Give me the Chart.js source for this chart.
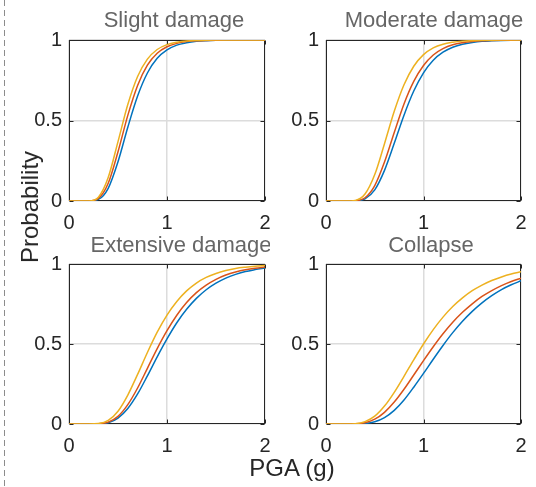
<!DOCTYPE html>
<html>
<head>
<meta charset="utf-8">
<script src="https://cdn.jsdelivr.net/npm/chart.js@4/dist/chart.umd.min.js"></script>
<style>
  html, body { margin: 0; padding: 0; background: #fff; }
  #wrap { position: relative; width: 536px; height: 487px; overflow: hidden; font-family: "Liberation Sans", Arial, Helvetica, sans-serif; }
  .cv { position: absolute; }
  #dash { position: absolute; left: 4px; top: 0; width: 1px; height: 487px;
          background: repeating-linear-gradient(to bottom, #8c8c8c 0 6px, transparent 6px 10px); }
  #ylab { position: absolute; left: 30px; top: 207px; transform: translate(-50%, -50%) rotate(-90deg);
          font-size: 24px; color: #262626; white-space: nowrap; }
  #xlab { position: absolute; left: 292px; top: 480px; transform: translate(-50%, -100%);
          font-size: 24px; color: #262626; white-space: nowrap; line-height: 1; }
</style>
</head>
<body>
<div id="wrap">
  <div id="dash"></div>
  <canvas id="c1" class="cv"></canvas>
  <canvas id="c2" class="cv"></canvas>
  <canvas id="c3" class="cv"></canvas>
  <canvas id="c4" class="cv"></canvas>
  <div id="ylab">Probability</div>
  <div id="xlab">PGA (g)</div>
</div>
<script>
// ---- data ----
const pga = [0,0.1,0.2,0.3,0.4,0.5,0.6,0.7,0.8,0.9,1.0,1.1,1.2,1.3,1.4,1.5,1.6,1.7,1.8,1.9,2.0];

const xTicks = [0, 1, 2];
const yTicks = [0, 0.5, 1];
const titles = ["Slight damage", "Moderate damage", "Extensive damage", "Collapse"];
const seriesNames = ["Series 1", "Series 2", "Series 3"];

const slightBlue   = [0,0,0.0001,0.010,0.079,0.244,0.458,0.652,0.795,0.886,0.938,0.968,0.983,0.992,0.996,0.998,0.999,0.9994,0.9997,0.9998,0.9999];
const slightRed    = [0,0,0.0003,0.016,0.110,0.306,0.532,0.718,0.844,0.918,0.958,0.979,0.990,0.995,0.9975,0.9988,0.9994,0.9997,0.9998,0.9999,1];
const slightYellow = [0,0,0.0005,0.024,0.146,0.369,0.599,0.773,0.881,0.941,0.971,0.986,0.994,0.997,0.9986,0.9993,0.9997,0.9998,0.9999,1,1];

const moderateBlue   = [0,0,0,0.0007,0.013,0.069,0.190,0.358,0.533,0.683,0.796,0.874,0.924,0.955,0.974,0.985,0.992,0.995,0.997,0.9985,0.999];
const moderateRed    = [0,0,0,0.0013,0.020,0.096,0.242,0.426,0.603,0.743,0.842,0.907,0.946,0.970,0.983,0.991,0.995,0.997,0.9985,0.9992,0.9995];
const moderateYellow = [0,0,0,0.0037,0.043,0.164,0.356,0.557,0.722,0.837,0.909,0.951,0.974,0.986,0.993,0.996,0.998,0.999,0.9995,0.9997,0.9999];

const extensiveBlue   = [0,0,0,0.0008,0.008,0.037,0.097,0.188,0.301,0.420,0.532,0.633,0.717,0.785,0.839,0.880,0.912,0.935,0.953,0.965,0.975];
const extensiveRed    = [0,0,0,0.0012,0.012,0.048,0.121,0.225,0.348,0.471,0.583,0.680,0.759,0.821,0.868,0.904,0.931,0.950,0.964,0.974,0.981];
const extensiveYellow = [0,0,0,0.0027,0.0225,0.080,0.181,0.310,0.447,0.574,0.681,0.766,0.832,0.881,0.916,0.941,0.959,0.972,0.980,0.986,0.990];

const collapseBlue   = [0,0,0,0.0002,0.003,0.014,0.040,0.085,0.150,0.230,0.316,0.405,0.491,0.571,0.642,0.704,0.757,0.802,0.840,0.870,0.895];
const collapseRed    = [0,0,0,0.001,0.008,0.030,0.073,0.137,0.217,0.306,0.396,0.483,0.564,0.636,0.698,0.751,0.797,0.834,0.865,0.891,0.911];
const collapseYellow = [0,0,0.0001,0.002,0.015,0.049,0.112,0.198,0.298,0.401,0.500,0.590,0.668,0.734,0.788,0.833,0.868,0.897,0.919,0.937,0.951];

const panels = [
  { id: "c1", title: titles[0], series: [slightBlue, slightRed, slightYellow] },
  { id: "c2", title: titles[1], series: [moderateBlue, moderateRed, moderateYellow] },
  { id: "c3", title: titles[2], series: [extensiveBlue, extensiveRed, extensiveYellow] },
  { id: "c4", title: titles[3], series: [collapseBlue, collapseRed, collapseYellow] }
];

// ---- layout / style ----
const colors = ["#0072BD", "#D95319", "#EDB120"];
const FONT = '"Liberation Sans", Arial, Helvetica, sans-serif';
const INK = "#262626";
// canvas box [left, top, width, height], plot box [left, top, right, bottom], title centre x / baseline (page coords)
const geom = [
  { box: [0, 0, 270, 240],     plot: [69, 40, 265, 201],   tx: 174, ty: 27 },
  { box: [270, 0, 266, 240],   plot: [326, 40, 521, 201],  tx: 434, ty: 27 },
  { box: [0, 226, 270, 261],   plot: [69, 264, 265, 424],  tx: 181, ty: 252 },
  { box: [270, 226, 266, 261], plot: [326, 264, 521, 424], tx: 431, ty: 252 }
];

const matlabAxes = {
  id: "matlabAxes",
  beforeDatasetsDraw(chart, args, opts) {
    const { ctx, chartArea: a, scales } = chart;
    ctx.save();
    ctx.strokeStyle = INK;
    ctx.lineWidth = 1;
    const L = Math.round(a.left) + 0.5, R = Math.round(a.right) - 0.5;
    const T = Math.round(a.top) + 0.5, B = Math.round(a.bottom) - 0.5;
    ctx.strokeRect(L, T, R - L, B - T);
    ctx.beginPath();
    const tl = 4;
    xTicks.forEach(v => {
      const x = Math.round(scales.x.getPixelForValue(v)) + 0.5;
      ctx.moveTo(x, B); ctx.lineTo(x, B - tl);
      ctx.moveTo(x, T); ctx.lineTo(x, T + tl);
    });
    yTicks.forEach(v => {
      const y = Math.round(scales.y.getPixelForValue(v)) + 0.5;
      ctx.moveTo(L, y); ctx.lineTo(L + tl, y);
      ctx.moveTo(R, y); ctx.lineTo(R - tl, y);
    });
    ctx.stroke();
    ctx.restore();
  },
  afterDraw(chart, args, opts) {
    const ctx = chart.ctx;
    ctx.save();
    ctx.fillStyle = "#666666";
    ctx.font = "22px " + FONT;
    ctx.textAlign = "center";
    ctx.textBaseline = "alphabetic";
    ctx.fillText(opts.text, opts.x, opts.y);
    ctx.restore();
  }
};

panels.forEach((p, i) => {
  const g = geom[i];
  const cv = document.getElementById(p.id);
  cv.style.left = g.box[0] + "px";
  cv.style.top = g.box[1] + "px";
  cv.style.width = g.box[2] + "px";
  cv.style.height = g.box[3] + "px";
  cv.width = g.box[2];
  cv.height = g.box[3];
  const yW = g.plot[0] - g.box[0];
  const padTop = g.plot[1] - g.box[1];
  const padRight = g.box[0] + g.box[2] - g.plot[2];
  const xH = g.box[1] + g.box[3] - g.plot[3];

  new Chart(cv, {
    type: "line",
    data: {
      labels: pga,
      datasets: p.series.map((s, k) => ({
        label: seriesNames[k],
        data: pga.map((x, j) => ({ x: x, y: s[j] })),
        borderColor: colors[k],
        backgroundColor: colors[k],
        borderWidth: 1.5,
        pointRadius: 0,
        cubicInterpolationMode: "monotone",
        fill: false,
        order: 2 - k
      }))
    },
    options: {
      responsive: false,
      animation: false,
      devicePixelRatio: 1,
      layout: { autoPadding: false, padding: { top: padTop, right: padRight, left: 0, bottom: 0 } },
      plugins: {
        legend: { display: false },
        tooltip: { enabled: false },
        title: { display: false },
        matlabAxes: { text: p.title, x: g.tx - g.box[0], y: g.ty - g.box[1] }
      },
      scales: {
        x: {
          type: "linear", min: 0, max: 2,
          afterBuildTicks: sc => { sc.ticks = xTicks.map(v => ({ value: v })); },
          afterFit: sc => { sc.height = xH; sc.paddingLeft = 0; sc.paddingRight = 0; },
          grid: { color: "#dcdcdc", lineWidth: 1.5, drawTicks: false },
          border: { display: false },
          ticks: { color: INK, font: { family: FONT, size: 20 }, padding: 10, maxRotation: 0,
                   callback: v => String(v) }
        },
        y: {
          type: "linear", min: 0, max: 1,
          afterBuildTicks: sc => { sc.ticks = yTicks.map(v => ({ value: v })); },
          afterFit: sc => { sc.width = yW; sc.paddingTop = 0; sc.paddingBottom = 0; },
          grid: { color: "#dcdcdc", lineWidth: 1.5, drawTicks: false },
          border: { display: false },
          ticks: { color: INK, font: { family: FONT, size: 20 }, padding: 7,
                   callback: v => String(v) }
        }
      }
    },
    plugins: [matlabAxes]
  });
});
</script>
</body>
</html>
